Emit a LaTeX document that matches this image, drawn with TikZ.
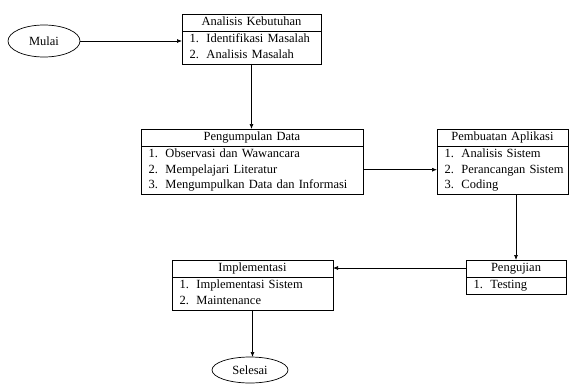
\documentclass[tikz,border=0pt]{standalone}
\usepackage{fontspec}
\setmainfont{Liberation Serif}
\usetikzlibrary{shapes.geometric,shapes.multipart,arrows.meta,positioning}
\tikzstyle{stage} = [rectangle split, rectangle split parts=2, draw, align=left,
    inner xsep=4pt, inner ysep=0.5pt, outer sep=0pt, anchor=north west]
\tikzstyle{terminal} = [ellipse, draw, inner sep=0pt, outer sep=0pt]
\tikzstyle{line} = [draw, -{Latex[length=5pt,width=4pt]}]
\newcommand{\entry}[2]{\strut\hspace*{3.5pt}\makebox[17pt][l]{#1}#2}
\newcommand{\heading}[1]{\makebox[\hsize][c]{\strut#1}}

\begin{document}
\begin{tikzpicture}[x=1pt, y=-1pt, line width=0.7pt,
    font=\fontsize{12.5}{15.5}\selectfont]
  \useasboundingbox (0,0) rectangle (570,383);
   % Place nodes
    \node [terminal, minimum width=72pt, minimum height=32pt] (mulai) at (44,41) {Mulai};
    \node [stage, text width=131pt] (kebutuhan) at (182,14) {\heading{Analisis Kebutuhan}
      \nodepart{two}\entry{1.}{Identifikasi Masalah}\\ \entry{2.}{Analisis Masalah}};
    \node [stage, text width=214pt] (pengumpulan) at (141,129) {\heading{Pengumpulan Data}
      \nodepart{two}\entry{1.}{Observasi dan Wawancara}\\ \entry{2.}{Mempelajari Literatur}\\
      \entry{3.}{Mengumpulkan Data dan Informasi}};
    \node [stage, text width=123pt] (pembuatan) at (437,129) {\heading{Pembuatan Aplikasi}
      \nodepart{two}\entry{1.}{Analisis Sistem}\\ \entry{2.}{Perancangan Sistem}\\ \entry{3.}{Coding}};
    \node [stage, text width=92pt] (pengujian) at (466,260) {\heading{Pengujian}
      \nodepart{two}\entry{1.}{Testing}};
    \node [stage, text width=153pt] (implementasi) at (172,260) {\heading{Implementasi}
      \nodepart{two}\entry{1.}{Implementasi Sistem}\\ \entry{2.}{Maintenance}};
    \node [terminal, minimum width=76pt, minimum height=26pt] (selesai) at (250,370) {Selesai};
   % Draw edges
    \path [line] (mulai) -- (mulai -| kebutuhan.west);
    \path [line] (kebutuhan.south) -- (kebutuhan.south |- pengumpulan.north);
    \path [line] ([yshift=-8pt]pengumpulan.east) -- ([yshift=-8pt]pengumpulan.east -| pembuatan.west);
    \path [line] (pembuatan.south -| pengujian.north) -- (pengujian.north);
    \path [line] ([yshift=-8pt]pengujian.north west) -- ([yshift=-8pt]pengujian.north west -| implementasi.east);
    \path [line] (implementasi.south) -- (implementasi.south |- selesai.north);
\end{tikzpicture}
\end{document}
